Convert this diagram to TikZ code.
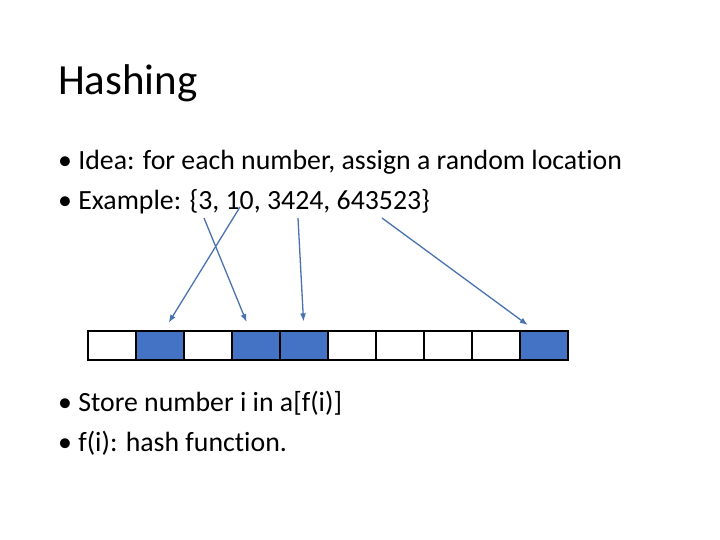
\documentclass[tikz,border=0pt]{standalone}
\usepackage{fontspec}
\setmainfont[Ligatures=CommonOff]{Carlito}
\usetikzlibrary{positioning, arrows.meta}
\definecolor{cellblue}{HTML}{4472C4}
\definecolor{arrowblue}{HTML}{4A72B0}
\begin{document}
\begin{tikzpicture}[x=1pt, y=-1pt,
        cell/.style = {draw = black, line width = 1.2pt, minimum width = 48pt, minimum height = 29pt, inner sep = 0pt, fill = #1},
        line/.style = {anchor = base west, inner sep = 0pt, font = \fontsize{27.8}{32}\selectfont},
        hasharrow/.style = {draw = arrowblue, line width = 1.3pt, -{Latex[length = 8pt, width = 6pt]}, shorten > = 9pt}]
    \useasboundingbox (0, 0) rectangle (720, 540);
    \node[anchor = base west, inner sep = 0pt, font = \fontsize{43}{50}\selectfont] (title) at (58, 95) {Hashing};
    \node[line] (idea) at (58, 170) {• Idea: for each number, assign a random location};
    \node[line] (example) at (58, 210) {• Example: \{3, 10, 3424, 643523\}};
    \node[line] (store) at (58, 411) {• Store number i in a[f(i)]};
    \node[line] (func) at (58, 451) {• f(i): hash function.};
    % the table
    \foreach \i/\c in {0/white, 1/cellblue, 2/white, 3/cellblue, 4/cellblue, 5/white, 6/white, 7/white, 8/white, 9/cellblue}
        \node[cell = \c] (c\i) at (112 + 48*\i, 345.5) {};
    % where each number goes
    \coordinate (n3) at (240, 207);
    \coordinate (n10) at (204, 218);
    \coordinate (n3424) at (298, 218);
    \coordinate (n643523) at (382, 218);
    \draw[hasharrow] (n3) -- ([xshift = 4pt]c1.north);
    \draw[hasharrow] (n10) -- ([xshift = -6pt]c3.north);
    \draw[hasharrow] (n3424) -- (c4.north);
    \draw[hasharrow] (n643523) -- ([xshift = -9pt]c9.north);
\end{tikzpicture}
\end{document}
